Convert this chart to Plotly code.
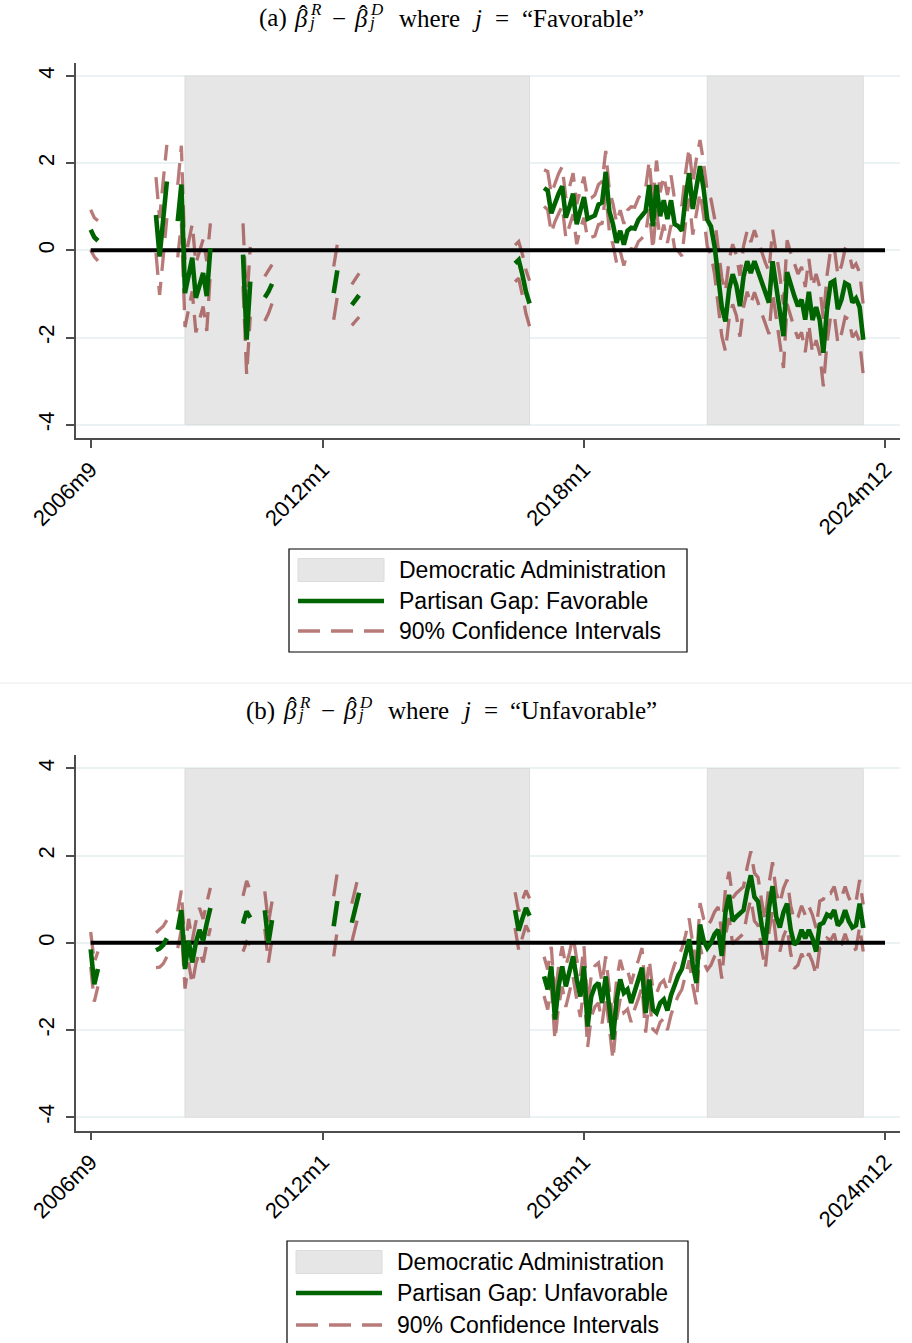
import plotly.graph_objects as go

# ------------------------------------------------------------------ data
tick_labels = ["2006m9", "2012m1", "2018m1", "2024m12"]
ytick_vals = [-4, -2, 0, 2, 4]
ytick_text = ["-4", "-2", "0", "2", "4"]

dem_start = ["2008m11", "2020m11"]
dem_end = ["2016m10", "2024m6"]
shade_lo, shade_hi = -4, 4
zero_span = ["2006m9", "2024m12"]

seg_starts = ["2006m9", "2008m3", "2008m9", "2010m3", "2010m9",
              "2012m4", "2012m9", "2016m6", "2017m2"]

# Panel (a): Favorable
fav_gap = [
    [0.47, 0.30, 0.22],
    [0.81, -0.14, 0.72, 1.58],
    [0.67, 1.51, -0.98, -0.55, -0.17, -1.09, -0.80, -0.52, -1.05, 0.05],
    [-0.10, -2.05, -0.72],
    [-1.08, -0.95, -0.77],
    [-0.98, -0.46],
    [-1.25, -1.14, -1.03],
    [-0.30, -0.22, -0.55, -0.95, -1.22],
    [1.43, 1.37, 0.85, 1.10, 1.30, 1.47, 0.75, 1.00, 1.30, 0.60,
     0.95, 1.22, 0.72, 0.75, 0.80, 1.05, 1.10, 1.80, 0.90, 0.60,
     0.17, 0.45, 0.13, 0.45, 0.52, 0.50, 0.70, 0.80, 0.90, 1.50,
     0.55, 1.50, 0.78, 1.15, 0.72, 1.15, 0.60, 0.55, 0.45, 1.20,
     1.77, 0.95, 1.50, 1.93, 1.40, 0.70, 0.55, 0.10, -0.60, -1.30,
     -1.63, -0.90, -0.55, -0.80, -1.28, -0.60, -0.25, -0.52, -0.25, -0.50,
     -0.75, -1.00, -1.20, -0.25, -0.80, -1.30, -1.97, -0.50, -0.80, -1.05,
     -1.28, -1.13, -1.59, -0.95, -1.60, -1.30, -1.60, -2.35, -1.35, -0.75,
     -0.70, -1.35, -1.13, -0.75, -0.80, -1.20, -1.10, -1.30, -2.05],
]
fav_hi = [
    [0.93, 0.75, 0.68],
    [1.68, 0.74, 1.60, 2.42],
    [1.50, 2.40, -0.20, 0.25, 0.60, -0.30, 0.00, 0.25, -0.25, 0.62],
    [0.62, -1.25, 0.08],
    [-0.60, -0.48, -0.33],
    [-0.37, 0.14],
    [-0.78, -0.66, -0.53],
    [0.12, 0.20, -0.08, -0.45, -0.70],
    [1.85, 1.81, 1.30, 1.54, 1.76, 1.92, 1.21, 1.45, 1.77, 1.06,
     1.40, 1.69, 1.18, 1.20, 1.27, 1.51, 1.58, 2.28, 1.37, 1.07,
     0.63, 0.92, 0.61, 0.92, 1.00, 0.99, 1.20, 1.32, 1.43, 2.05,
     1.09, 2.06, 1.33, 1.71, 1.27, 1.72, 1.16, 1.12, 1.03, 1.78,
     2.35, 1.54, 2.10, 2.53, 2.01, 1.32, 1.18, 0.74, 0.06, -0.63,
     -0.95, -0.22, 0.14, -0.11, -0.58, 0.10, 0.45, 0.19, 0.46, 0.21,
     -0.03, -0.28, -0.48, 0.47, -0.07, -0.57, -1.24, 0.23, -0.06, -0.31,
     -0.54, -0.38, -0.84, -0.20, -0.84, -0.54, -0.84, -1.58, -0.58, 0.02,
     0.07, -0.57, -0.35, 0.03, -0.02, -0.41, -0.31, -0.51, -1.25],
]
fav_lo = [
    [0.01, -0.15, -0.24],
    [-0.06, -1.02, -0.16, 0.74],
    [-0.16, 0.62, -1.76, -1.35, -0.94, -1.88, -1.60, -1.29, -1.85, -0.52],
    [-0.82, -2.85, -1.52],
    [-1.62, -1.45, -1.22],
    [-1.59, -1.06],
    [-1.72, -1.62, -1.53],
    [-0.72, -0.64, -1.02, -1.45, -1.74],
    [1.01, 0.93, 0.40, 0.66, 0.84, 1.02, 0.29, 0.55, 0.83, 0.14,
     0.50, 0.75, 0.26, 0.30, 0.33, 0.59, 0.62, 1.32, 0.43, 0.13,
     -0.29, -0.02, -0.35, -0.02, 0.04, 0.01, 0.20, 0.28, 0.37, 0.95,
     0.01, 0.94, 0.23, 0.59, 0.17, 0.58, 0.04, -0.02, -0.13, 0.62,
     1.19, 0.36, 0.90, 1.33, 0.79, 0.08, -0.08, -0.54, -1.26, -1.97,
     -2.31, -1.58, -1.24, -1.49, -1.98, -1.30, -0.95, -1.23, -0.96, -1.21,
     -1.47, -1.72, -1.92, -0.97, -1.53, -2.03, -2.70, -1.23, -1.54, -1.79,
     -2.02, -1.88, -2.34, -1.70, -2.36, -2.06, -2.36, -3.12, -2.12, -1.52,
     -1.47, -2.13, -1.91, -1.53, -1.58, -1.99, -1.89, -2.09, -2.85],
]

# Panel (b): Unfavorable
unf_gap = [
    [-0.15, -0.95, -0.60],
    [-0.17, -0.13, -0.05, 0.10],
    [0.30, 0.75, -0.60, 0.05, -0.45, 0.00, 0.30, 0.05, 0.45, 0.80],
    [0.44, 0.72, 0.58],
    [0.75, 0.00, 0.52],
    [0.38, 0.96],
    [0.46, 0.80, 1.15],
    [0.75, 0.28, 0.55, 0.80, 0.62],
    [-0.77, -1.07, -0.54, -1.76, -1.00, -0.54, -1.00, -0.69, -0.31, -0.84,
     -1.23, -0.54, -1.92, -1.23, -1.00, -0.92, -1.38, -0.77, -1.53, -2.22,
     -1.30, -0.84, -1.15, -1.07, -1.38, -1.07, -0.84, -0.57, -1.61, -0.84,
     -1.53, -1.61, -1.38, -1.30, -1.55, -1.20, -0.95, -0.75, -0.60, -0.30,
     0.08, -0.50, -0.92, 0.42, 0.05, -0.12, 0.00, 0.20, 0.30, -0.30,
     0.70, 1.10, 0.50, 0.60, 0.68, 0.75, 1.20, 1.55, 1.05, 0.95,
     0.40, -0.04, 0.80, 1.30, 0.60, 0.35, 0.70, 0.90, 0.30, -0.04,
     0.04, 0.30, 0.10, 0.30, 0.10, -0.20, 0.42, 0.46, 0.65, 0.60,
     0.75, 0.40, 0.50, 0.75, 0.50, 0.35, 0.40, 0.90, 0.34],
]
unf_hi = [
    [0.25, -0.45, -0.20],
    [0.23, 0.30, 0.38, 0.52],
    [0.72, 1.20, -0.15, 0.55, 0.05, 0.48, 0.80, 0.55, 0.92, 1.26],
    [1.08, 1.42, 1.20],
    [1.18, 0.45, 0.95],
    [1.07, 1.62],
    [0.90, 1.24, 1.60],
    [1.16, 0.72, 0.98, 1.20, 1.02],
    [-0.32, -0.61, -0.09, -1.29, -0.54, -0.08, -0.53, -0.23, 0.16, -0.38,
     -0.76, -0.07, -1.44, -0.76, -0.53, -0.46, -0.91, -0.31, -1.06, -1.76,
     -0.84, -0.39, -0.70, -0.62, -0.94, -0.63, -0.40, -0.12, -1.16, -0.39,
     -1.08, -1.16, -0.94, -0.86, -1.10, -0.75, -0.49, -0.29, -0.13, 0.17,
     0.56, -0.02, -0.43, 0.91, 0.55, 0.38, 0.51, 0.71, 0.82, 0.22,
     1.23, 1.63, 1.03, 1.14, 1.22, 1.29, 1.74, 2.10, 1.60, 1.50,
     0.95, 0.51, 1.35, 1.85, 1.15, 0.90, 1.25, 1.45, 0.85, 0.51,
     0.59, 0.85, 0.64, 0.84, 0.64, 0.34, 0.96, 1.00, 1.19, 1.14,
     1.29, 0.94, 1.04, 1.29, 1.04, 0.89, 0.94, 1.44, 0.88],
]
unf_lo = [
    [-0.55, -1.35, -1.00],
    [-0.57, -0.56, -0.48, -0.32],
    [-0.12, 0.30, -1.05, -0.45, -0.95, -0.48, -0.20, -0.45, -0.02, 0.34],
    [-0.20, 0.02, -0.04],
    [0.32, -0.45, 0.09],
    [-0.31, 0.30],
    [0.02, 0.36, 0.70],
    [0.34, -0.16, 0.12, 0.40, 0.22],
    [-1.22, -1.53, -0.99, -2.23, -1.46, -1.00, -1.47, -1.15, -0.78, -1.30,
     -1.70, -1.01, -2.40, -1.70, -1.47, -1.38, -1.85, -1.23, -2.00, -2.68,
     -1.76, -1.29, -1.60, -1.52, -1.82, -1.51, -1.28, -1.02, -2.06, -1.29,
     -1.98, -2.06, -1.82, -1.74, -2.00, -1.65, -1.41, -1.21, -1.07, -0.77,
     -0.40, -0.98, -1.41, -0.07, -0.45, -0.62, -0.51, -0.31, -0.22, -0.82,
     0.17, 0.57, -0.03, 0.06, 0.14, 0.21, 0.66, 1.00, 0.50, 0.40,
     -0.15, -0.59, 0.25, 0.75, 0.05, -0.20, 0.15, 0.35, -0.25, -0.59,
     -0.51, -0.25, -0.44, -0.24, -0.44, -0.74, -0.12, -0.08, 0.11, 0.06,
     0.21, -0.14, -0.04, 0.21, -0.04, -0.19, -0.14, 0.36, -0.20],
]

legend_a = ["Democratic Administration", "Partisan Gap: Favorable", "90% Confidence Intervals"]
legend_b = ["Democratic Administration", "Partisan Gap: Unfavorable", "90% Confidence Intervals"]

# ------------------------------------------------------------------ helpers
W, H = 912, 1343
SANS = "Liberation Sans, Arial, sans-serif"
SERIF = "Liberation Serif, Times New Roman, serif"
GREEN = "#006400"
CI = "rgba(135,25,25,0.58)"
SHADE = "#E6E6E6"
SHADE_LINE = "#DCDCDC"
AXIS = "#4d4d4d"
DASH = "22px,11px"


def mindex(lbl):
    y, m = lbl.split("m")
    return (int(y) - 2006) * 12 + int(m) - 9


def series(starts, segs):
    xs, ys = [], []
    for s, vals in zip(starts, segs):
        i0 = mindex(s)
        xs.extend(i0 + k for k in range(len(vals)))
        ys.extend(vals)
        xs.append(None)
        ys.append(None)
    return xs, ys


def px(x):
    return x / W


def py(y):
    return 1 - y / H


fig = go.Figure()

panels = [
    dict(xa="x", ya="y", gap=fav_gap, hi=fav_hi, lo=fav_lo, name=legend_a[1]),
    dict(xa="x2", ya="y2", gap=unf_gap, hi=unf_hi, lo=unf_lo, name=legend_b[1]),
]

for p in panels:
    for s, e in zip(dem_start, dem_end):
        a, b = mindex(s), mindex(e)
        fig.add_trace(go.Scatter(
            x=[a, b, b, a, a], y=[shade_lo, shade_lo, shade_hi, shade_hi, shade_lo],
            fill="toself", fillcolor=SHADE, mode="lines",
            line=dict(color=SHADE_LINE, width=1),
            xaxis=p["xa"], yaxis=p["ya"], showlegend=False, hoverinfo="skip",
            name="Democratic Administration"))
    for key in ("hi", "lo"):
        xs, ys = series(seg_starts, p[key])
        fig.add_trace(go.Scatter(
            x=xs, y=ys, mode="lines", connectgaps=False,
            line=dict(color=CI, width=3.3, dash=DASH),
            xaxis=p["xa"], yaxis=p["ya"], showlegend=False,
            name="90% Confidence Intervals"))
    zx = [mindex(z) for z in zero_span]
    fig.add_trace(go.Scatter(
        x=zx, y=[0, 0], mode="lines", line=dict(color="black", width=4),
        xaxis=p["xa"], yaxis=p["ya"], showlegend=False, hoverinfo="skip"))
    xs, ys = series(seg_starts, p["gap"])
    fig.add_trace(go.Scatter(
        x=xs, y=ys, mode="lines", connectgaps=False,
        line=dict(color=GREEN, width=4.6),
        xaxis=p["xa"], yaxis=p["ya"], showlegend=False, name=p["name"]))

tickvals = [mindex(t) for t in tick_labels]
xcommon = dict(range=[-4.05, 223.13], tickvals=tickvals, ticktext=tick_labels,
               tickangle=-45, showgrid=False, zeroline=False, showline=True,
               linecolor=AXIS, linewidth=1.5, ticks="outside", ticklen=8,
               tickwidth=1.5, tickcolor=AXIS, automargin=False,
               tickfont=dict(family=SANS, size=22, color="black"),
               domain=[px(76), px(900)])
ycommon = dict(range=[-4.31, 4.305], tickvals=ytick_vals, ticktext=ytick_text,
               tickangle=-90, showgrid=True, gridcolor="#EAF2F3", gridwidth=1.5,
               zeroline=False, showline=True, linecolor=AXIS, linewidth=1.5,
               ticks="outside", ticklen=8, tickwidth=1.5, tickcolor=AXIS,
               automargin=False, ticklabelstandoff=3,
               tickfont=dict(family=SANS, size=22, color="black"))

fig.update_layout(
    template="none",
    width=W, height=H, autosize=False,
    margin=dict(l=0, r=0, t=0, b=0, pad=0, autoexpand=False),
    paper_bgcolor="white", plot_bgcolor="white",
    showlegend=False,
    font=dict(family=SANS, color="black"),
    xaxis=dict(xcommon, anchor="y"),
    yaxis=dict(ycommon, anchor="x", domain=[py(438.2), py(62.7)]),
    xaxis2=dict(xcommon, anchor="y2"),
    yaxis2=dict(ycommon, anchor="x2", domain=[py(1130.7), py(755.2)]),
)

# separator between the two graphs
fig.add_shape(type="line", xref="paper", yref="paper", x0=0, x1=1,
              y0=py(683), y1=py(683), line=dict(color="#EBEBEB", width=1))


def ann(text, x, y, size, xanchor="center", family=SERIF):
    fig.add_annotation(text=text, x=px(x), y=py(y), xref="paper", yref="paper",
                       xanchor=xanchor, yanchor="middle", showarrow=False,
                       borderpad=0,
                       font=dict(family=family, size=size, color="black"))


def title(label, word, dx, dy, label_x, word_x):
    # positions laid out for panel (b); panel (a) shifted by dx, dy
    main = 710.9 + dy
    sup, sub, hat = main - 8.5, main + 3.7, main - 4.0
    fs, ss = 25, 17
    ann(label, label_x, main, fs)
    for bx, letter in ((290, "R"), (349.5, "D")):
        ann("<i>β</i>", bx + dx, main, fs)
        ann("ˆ", bx + 2.5 + dx, hat, fs)
        ann("<i>%s</i>" % letter, bx + 8 + dx, sup, ss, xanchor="left")
        ann("<i>j</i>", bx + 6 + dx, sub, ss, xanchor="left")
    ann("−", 327.5 + dx, main, fs)
    ann("where", 418 + dx, main, fs)
    ann("<i>j</i>", 466 + dx, main, fs)
    ann("=", 491 + dx, main, fs)
    ann(word, word_x, main, fs)


title("(a)", "“Favorable”", 11.3, -692.5, 272.7, 583.0)
title("(b)", "“Unfavorable”", 0.0, 0.0, 260.3, 583.5)


def legend(labels, x0, x1, y0, y1, rows):
    fig.add_shape(type="rect", xref="paper", yref="paper",
                  x0=px(x0), x1=px(x1), y0=py(y0), y1=py(y1),
                  line=dict(color="black", width=1.2), fillcolor="white")
    sx0, sx1 = x0 + 9, x0 + 95
    r1, r2, r3 = rows
    fig.add_shape(type="rect", xref="paper", yref="paper",
                  x0=px(sx0), x1=px(sx1), y0=py(r1 - 11.5), y1=py(r1 + 11.5),
                  line=dict(color=SHADE_LINE, width=1), fillcolor=SHADE)
    fig.add_shape(type="line", xref="paper", yref="paper",
                  x0=px(sx0), x1=px(sx1), y0=py(r2), y1=py(r2),
                  line=dict(color=GREEN, width=4.6))
    fig.add_shape(type="line", xref="paper", yref="paper",
                  x0=px(sx0), x1=px(sx1), y0=py(r3), y1=py(r3),
                  line=dict(color=CI, width=3.5, dash=DASH))
    for lab, ry in zip(labels, rows):
        ann(lab, x0 + 109, ry, 23, xanchor="left", family=SANS)


legend(legend_a, 289, 687, 549, 652, (570, 601, 631))
legend(legend_b, 287, 688, 1241, 1350, (1262, 1293, 1325))

fig.write_html(
    "out.html",
    config={"displayModeBar": False},
    post_script="document.body.style.margin='0px';"
                "document.body.style.overflow='hidden';",
)
